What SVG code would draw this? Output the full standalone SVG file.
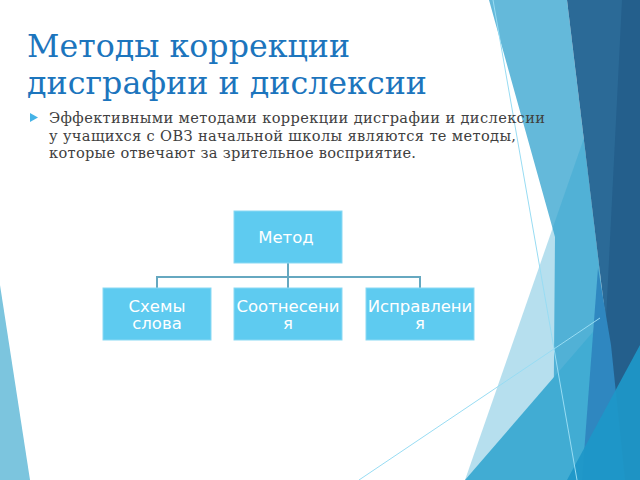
<svg xmlns="http://www.w3.org/2000/svg" width="640" height="480" viewBox="0 0 640 480">
<style>
.title{font-family:"DejaVu Serif","Liberation Serif",serif;font-size:31.5px;fill:#1c75bd}
.body{font-family:"DejaVu Serif","Liberation Serif",serif;font-size:14.6px;fill:#404040}
.box{fill:#5ecbf0;stroke:#8ad9f4;stroke-width:1}
.lbl{font-family:"DejaVu Sans","Noto Sans",sans-serif;font-size:16.5px;fill:#ffffff;text-anchor:middle}
.conn{fill:none;stroke:#66a8c0;stroke-width:2}
.thin{stroke:#98dcf3;stroke-width:1;fill:none}
</style>
<rect width="640" height="480" fill="#ffffff"/>
<g id="background">
<polygon points="0,285 30,480 0,480" fill="#7cc5de"/>
<polygon points="489,0 567,0 625,480 553,480 555,237" fill="#64b9da"/>
<polygon points="584,138 465,480 590,480 600,270" fill="#2ea3cd" fill-opacity="0.35"/>
<polygon points="567,0 640,0 640,480 625,480" fill="#2b6a97"/>
<polygon points="622,0 640,0 640,480 598,480" fill="#245f8c"/>
<polygon points="465,480 605,318 612,480" fill="#41acd3"/>
<polygon points="598,268 582,480 625,480 611,345" fill="#2f87c0"/>
<polygon points="567,480 640,345 640,480" fill="#1e97c8" fill-opacity="0.94"/>
<line class="thin" x1="493" y1="0" x2="577" y2="480"/>
<line class="thin" x1="359" y1="480" x2="600" y2="318"/>
</g>
<g id="title">
<text class="title" x="27" y="57" textLength="323" lengthAdjust="spacingAndGlyphs">Методы коррекции</text>
<text class="title" x="27" y="94" textLength="400" lengthAdjust="spacingAndGlyphs">дисграфии и дислексии</text>
</g>
<g id="bullet-text">
<polygon points="30,113 38,117.5 30,122" fill="#45b3e7"/>
<text class="body" x="49" y="123" textLength="496" lengthAdjust="spacing">Эффективными методами коррекции дисграфии и дислексии</text>
<text class="body" x="49" y="140.5" textLength="467" lengthAdjust="spacing">у учащихся с ОВЗ начальной школы являются те методы,</text>
<text class="body" x="49" y="158" textLength="367" lengthAdjust="spacing">которые отвечают за зрительное восприятие.</text>
</g>
<g id="connectors">
<path class="conn" d="M288,263 V288 M157,288 V277 H420 V288"/>
</g>
<g id="node-metod">
<rect class="box" x="234" y="211" width="108" height="52"/>
<text class="lbl" x="286" y="243">Метод</text>
</g>
<g id="node-skhemy">
<rect class="box" x="103" y="288" width="108" height="52"/>
<text class="lbl" x="157" y="312">Схемы</text>
<text class="lbl" x="157" y="329">слова</text>
</g>
<g id="node-sootnesenia">
<rect class="box" x="234" y="288" width="108" height="52"/>
<text class="lbl" x="288" y="312">Соотнесени</text>
<text class="lbl" x="288" y="329">я</text>
</g>
<g id="node-ispravlenia">
<rect class="box" x="366" y="288" width="108" height="52"/>
<text class="lbl" x="420" y="312">Исправлени</text>
<text class="lbl" x="420" y="329">я</text>
</g>
</svg>
